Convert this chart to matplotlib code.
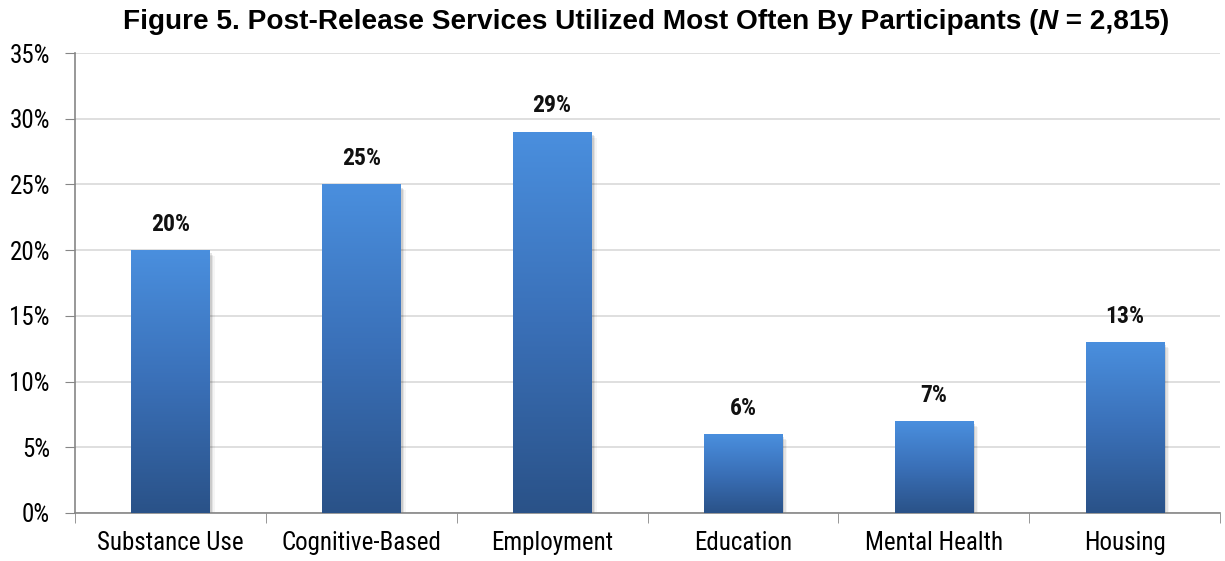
import numpy as np
import matplotlib
matplotlib.use("Agg")
import matplotlib.pyplot as plt
from matplotlib.colors import LinearSegmentedColormap
from matplotlib.patches import Rectangle
from matplotlib import font_manager

# Datos del gráfico
servicios = ["Substance Use", "Cognitive-Based", "Employment", "Education", "Mental Health", "Housing"]
porcentajes = [20, 25, 29, 6, 7, 13]
y_ticks = [0, 5, 10, 15, 20, 25, 30, 35]

# Fuente estrecha: se busca una condensada entre las instaladas
fuentes = font_manager.fontManager.ttflist
candidatas = ["Liberation Sans Narrow", "Roboto Condensed", "Open Sans Condensed", "Noto Sans Condensed"]
nombres = {f.name for f in fuentes}
estrecha = next((c for c in candidatas if c in nombres), None)
estiramiento = "normal"
if estrecha is None:
    condensadas = [f for f in fuentes if f.stretch in ("condensed", "semi-condensed")]
    if condensadas:
        estrecha = condensadas[0].name
        estiramiento = condensadas[0].stretch
    else:
        estrecha = "Liberation Sans"
estilo = dict(family=estrecha, fontstretch=estiramiento)

fig = plt.figure(figsize=(12.25, 5.61), dpi=100)
ax = fig.add_axes([0.0612, 0.0856, 0.9348, 0.8199])

x = np.arange(len(servicios))
ancho = 0.41
degradado = LinearSegmentedColormap.from_list("azul", ["#2a5288", "#3a70b8", "#4a8fde"])
grad = np.linspace(0, 1, 256).reshape(-1, 1)

for xi, v in zip(x, porcentajes):
    # sombra suave a la derecha
    for k, a in enumerate([0.10, 0.07, 0.04]):
        d = 0.012 + k * 0.008
        ax.add_patch(Rectangle((xi - ancho / 2 + d, 0), ancho, v - 0.25 - k * 0.1,
                               facecolor="#000000", alpha=a, edgecolor="none", zorder=2))
    barra = ax.bar(xi, v, width=ancho, color="none", zorder=3)[0]
    img = ax.imshow(grad, cmap=degradado, origin="lower", aspect="auto",
                    extent=(xi - ancho / 2, xi + ancho / 2, 0, v), zorder=3)
    img.set_clip_path(barra)
    ax.text(xi, v + 1.1, f"{v}%", ha="center", va="bottom", fontsize=17,
            fontweight="bold", color="#111111", **estilo)

ax.set_xlim(-0.5, len(servicios) - 0.5)
ax.set_ylim(0, 35)
ax.set_yticks(y_ticks)
ax.set_yticklabels([f"{t}%" for t in y_ticks], fontsize=18, **estilo)
ax.set_xticks(x)
ax.set_xticklabels(servicios, fontsize=18, **estilo)
ax.tick_params(axis="x", length=0, pad=13)
ax.set_xticks(np.arange(-0.5, len(servicios)), minor=True)
ax.tick_params(axis="x", which="minor", length=7, color="#868686")
ax.tick_params(axis="y", length=7, color="#868686", pad=11)

ax.grid(axis="y", color="#d9d9d9", linewidth=1.2, zorder=0)
ax.set_axisbelow(True)
for lado in ["top", "right"]:
    ax.spines[lado].set_visible(False)
ax.spines["left"].set_color("#868686")
ax.spines["bottom"].set_color("#868686")
ax.spines["left"].set_linewidth(1.2)
ax.spines["bottom"].set_linewidth(1.2)

# Título en tres piezas para poner la N en cursiva
titulo = dict(fontsize=20.2, fontweight="bold", family="Liberation Sans", va="center")
renderer = fig.canvas.get_renderer()
piezas = [("Figure 5. Post-Release Services Utilized Most Often By Participants (", "normal"),
          ("N", "italic"), (" = 2,815)", "normal")]
textos = [fig.text(0, 0.961, t, style=s, **titulo) for t, s in piezas]
anchos = [t.get_window_extent(renderer).width for t in textos]
x0 = 0.5273 * fig.bbox.width - sum(anchos) / 2
for t, w in zip(textos, anchos):
    t.set_x(x0 / fig.bbox.width)
    x0 += w

fig.savefig("out.png", dpi=100)
